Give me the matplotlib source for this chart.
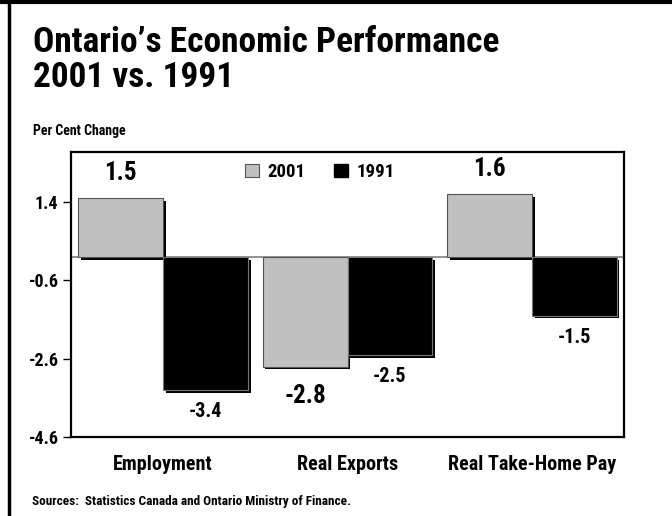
import matplotlib
matplotlib.use("Agg")
import matplotlib.pyplot as plt
import matplotlib.patheffects as pe
from matplotlib.patches import Rectangle
from matplotlib.lines import Line2D

plt.rcParams["font.family"] = ["Roboto Condensed", "DejaVu Sans"]
plt.rcParams["font.weight"] = "bold"

categories = ["Employment", "Real Exports", "Real Take-Home Pay"]
values_2001 = [1.5, -2.8, 1.6]
values_1991 = [-3.4, -2.5, -1.5]
yticks = [1.4, -0.6, -2.6, -4.6]
series_names = ["2001", "1991"]

GREY = "#c0c0c0"
BLACK = "#000000"
W, H = 672, 516

fig = plt.figure(figsize=(W / 100, H / 100), dpi=100)
ax = fig.add_axes([71 / W, 1 - 437 / H, (624 - 71) / W, (437 - 152) / H])

x = list(range(len(categories)))
w = 0.46
shadow = [pe.SimplePatchShadow(offset=(2, -2), shadow_rgbFace="black", alpha=1.0), pe.Normal()]

b1 = ax.bar([i - w / 2 for i in x], values_2001, width=w, color=GREY,
            edgecolor="#555555", linewidth=0.8, zorder=3)
b2 = ax.bar([i + w / 2 for i in x], values_1991, width=w, color=BLACK,
            edgecolor="#777777", linewidth=0.8, zorder=3)
for b in list(b1) + list(b2):
    b.set_path_effects(shadow)

ax.axhline(0, color="#808080", linewidth=1.2, zorder=2)

ax.set_xlim(-0.5, 2.5)
ax.set_ylim(-4.6, 2.68)
ax.set_yticks(yticks)
ax.set_yticklabels([f"{t:.1f}" for t in yticks], fontsize=13, fontweight="bold")
ax.set_xticks([])
ax.tick_params(axis="y", length=6, width=1, pad=3)
for s in ax.spines.values():
    s.set_linewidth(1.6)

# value labels: 2001 larger, 1991 smaller
for i, v in enumerate(values_2001):
    off = 18 if v > 0 else -21
    ax.annotate(f"{v:.1f}", (i - w / 2, v), xytext=(0, off), textcoords="offset points",
                ha="center", va="center", fontsize=18, fontweight="bold")
for i, v in enumerate(values_1991):
    ax.annotate(f"{v:.1f}", (i + w / 2, v), xytext=(0, -15.5), textcoords="offset points",
                ha="center", va="center", fontsize=14.5, fontweight="bold")

# category labels below the axes
for i, c in enumerate(categories):
    ax.annotate(c, (i, -4.6), xytext=(0, -24), textcoords="offset points",
                ha="center", va="baseline", fontsize=14.5, fontweight="bold",
                annotation_clip=False)

# legend
handles = [Rectangle((0, 0), 1, 1, facecolor=GREY, edgecolor="#555555", linewidth=0.8),
           Rectangle((0, 0), 1, 1, facecolor=BLACK, edgecolor=BLACK)]
leg = fig.legend(handles, series_names, loc="center", bbox_to_anchor=(320 / W, 1 - 172 / H),
                 ncol=2, frameon=False, fontsize=13.5, handlelength=0.72, handleheight=0.72,
                 handletextpad=0.45, columnspacing=1.55, borderpad=0, borderaxespad=0)
for t in leg.get_texts():
    t.set_fontweight("bold")

# titles and notes
fig.text(33 / W, 1 - 52 / H, "Ontario\u2019s Economic Performance", fontsize=25.5,
         fontweight="bold", va="baseline", ha="left")
fig.text(33 / W, 1 - 87 / H, "2001 vs. 1991", fontsize=25.5,
         fontweight="bold", va="baseline", ha="left")
fig.text(33 / W, 1 - 135 / H, "Per Cent Change", fontsize=10,
         fontweight="bold", va="baseline", ha="left")
fig.text(32 / W, 1 - 505 / H, "Sources:  Statistics Canada and Ontario Ministry of Finance.",
         fontsize=9.5, fontweight="bold", va="baseline", ha="left")

# page frame: top and left rules
fig.add_artist(Line2D([0, 1], [1 - 1.5 / H] * 2, color="black", linewidth=3,
                      transform=fig.transFigure))
fig.add_artist(Line2D([8.5 / W] * 2, [0, 1], color="black", linewidth=2.5,
                      transform=fig.transFigure))

fig.savefig("out.png", dpi=100)
